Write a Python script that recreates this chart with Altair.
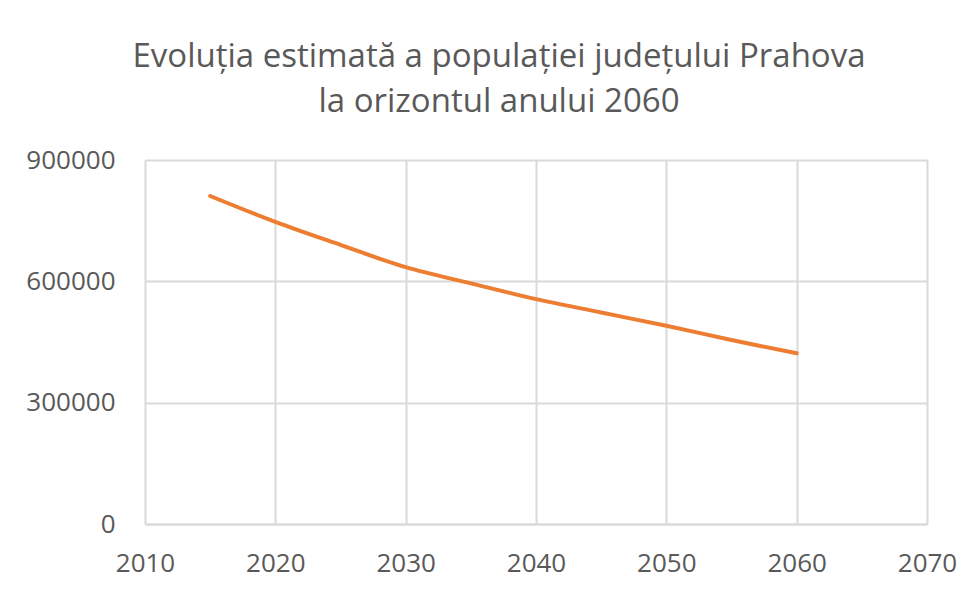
import altair as alt
import pandas as pd

years = [2015, 2020, 2025, 2030, 2035, 2040, 2045, 2050, 2055, 2060]
population = [811000, 747000, 690000, 635000, 595000, 556000, 523000, 490000, 455000, 422000]
x_ticks = [2010, 2020, 2030, 2040, 2050, 2060, 2070]
y_ticks = [0, 300000, 600000, 900000]
title_lines = ["Evoluția estimată a populației județului Prahova", "la orizontul anului 2060"]

df = pd.DataFrame({"An": years, "Populatie": population})

FONT = "Open Sans"
TXT = "#595959"
GRID = "#d9d9d9"

chart = (
    alt.Chart(df)
    .mark_line(color="#ed7d31", strokeWidth=4, interpolate="catmull-rom", strokeCap="round")
    .encode(
        x=alt.X(
            "An:Q",
            scale=alt.Scale(domain=[2010, 2070], nice=False, zero=False),
            axis=alt.Axis(
                values=x_ticks, format="d", title=None, grid=True,
                gridColor=GRID, gridWidth=2, domainColor=GRID, domainWidth=2,
                ticks=False, labelFont=FONT, labelFontSize=26, labelColor=TXT,
                labelPadding=26, labelFlush=False,
            ),
        ),
        y=alt.Y(
            "Populatie:Q",
            scale=alt.Scale(domain=[0, 900000], nice=False),
            axis=alt.Axis(
                values=y_ticks, format="d", title=None, grid=True,
                gridColor=GRID, gridWidth=2, domain=False, ticks=False,
                labelFont=FONT, labelFontSize=26, labelColor=TXT,
                labelPadding=30,
            ),
        ),
    )
    .properties(
        width=782,
        height=364,
        autosize=alt.AutoSizeParams(type="none"),
        padding={"left": 137, "top": 152, "right": 39, "bottom": 61},
        title=alt.TitleParams(
            text=title_lines,
            font=FONT, fontSize=33, fontWeight="normal", color=TXT,
            lineHeight=45, anchor="middle", dx=-37, offset=28,
        ),
    )
    .configure_view(stroke=None)
    .configure(background="white")
)

chart.save("out.html", embed_options={"renderer": "svg", "actions": False})
